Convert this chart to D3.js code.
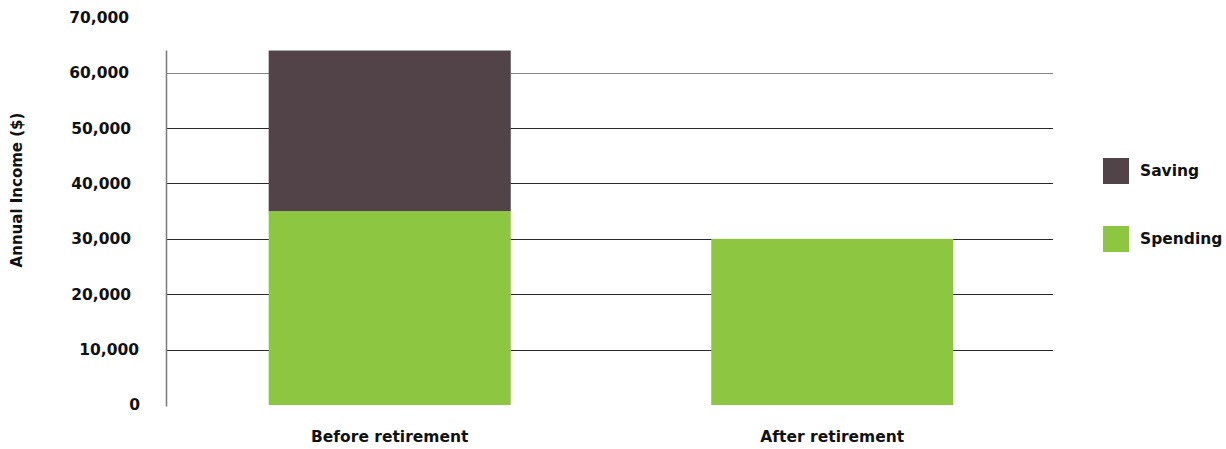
<!DOCTYPE html>
<html>
<head>
<meta charset="utf-8">
<script src="https://cdn.jsdelivr.net/npm/d3@7"></script>
<style>
  body { margin: 0; background: #fff; }
  svg text { font-family: "DejaVu Sans", sans-serif; font-weight: bold; fill: #111; }
</style>
</head>
<body>
<div id="chart"></div>
<script>
var categories = ["Before retirement", "After retirement"];
var spending = [35000, 30000];
var saving = [29000, 0];
var seriesNames = ["Saving", "Spending"];
var tickValues = [0, 10000, 20000, 30000, 40000, 50000, 60000, 70000];

var colors = { Saving: "#524349", Spending: "#8dc641" };

var W = 1226, H = 449;
var svg = d3.select("#chart").append("svg")
    .attr("width", W)
    .attr("height", H);

var x = d3.scaleBand()
    .domain(categories)
    .range([166, 1056])
    .paddingInner(0.453)
    .paddingOuter(0.232);

var y = d3.scaleLinear()
    .domain([0, 70000])
    .range([405, 17.3]);

var rows = categories.map(function(c, i) {
    return { cat: c, Spending: spending[i], Saving: saving[i] };
});
var stack = d3.stack().keys(["Spending", "Saving"])(rows);

// gridlines
svg.append("g")
    .selectAll("line")
    .data(tickValues.filter(function(v) { return v > 0 && v < 70000; }))
    .enter().append("line")
    .attr("x1", 166)
    .attr("x2", 1053)
    .attr("y1", function(d) { return Math.round(y(d)) + 0.5; })
    .attr("y2", function(d) { return Math.round(y(d)) + 0.5; })
    .attr("stroke", function(d) { return d === 60000 ? "#858585" : "#2a2a2a"; })
    .attr("stroke-width", 1);

// y tick labels
var yAxis = svg.append("g")
    .attr("transform", "translate(131,0)")
    .call(d3.axisLeft(y).tickValues(tickValues).tickSize(0).tickPadding(0)
        .tickFormat(d3.format(",")));
yAxis.select(".domain").remove();
yAxis.selectAll("text")
    .style("font-family", "'DejaVu Sans', sans-serif")
    .style("font-weight", "bold")
    .style("font-size", "15.5px")
    .attr("fill", "#111")
    .attr("dx", function(d) { return d === 0 ? 9 : d === 10000 ? 8 : d >= 60000 ? -2 : 0; });

// y axis line up to the tallest bar
var maxTotal = d3.max(rows, function(r) { return r.Spending + r.Saving; });
svg.append("line")
    .attr("x1", 166.5).attr("x2", 166.5)
    .attr("y1", y(maxTotal))
    .attr("y2", y(0) + 1.5)
    .attr("stroke", "#7a7a7a")
    .attr("stroke-width", 1.5);

// bars
stack.forEach(function(layer) {
    svg.append("g")
        .attr("fill", colors[layer.key])
        .selectAll("rect")
        .data(layer.filter(function(d) { return d[1] > d[0]; }))
        .enter().append("rect")
        .attr("x", function(d) { return x(d.data.cat); })
        .attr("width", x.bandwidth())
        .attr("y", function(d) { return y(d[1]); })
        .attr("height", function(d) { return y(d[0]) - y(d[1]); });
});

// category labels
var xAxis = svg.append("g")
    .attr("transform", "translate(0,405)")
    .call(d3.axisBottom(x).tickSize(0).tickPadding(26));
xAxis.select(".domain").remove();
xAxis.selectAll("text")
    .style("font-family", "'DejaVu Sans', sans-serif")
    .style("font-weight", "bold")
    .style("font-size", "15.5px")
    .attr("fill", "#111");

// y title
svg.append("text")
    .attr("transform", "translate(22,190) rotate(-90)")
    .attr("text-anchor", "middle")
    .style("font-size", "15px")
    .text("Annual Income ($)");

// legend
var legend = svg.append("g")
    .selectAll("g")
    .data(seriesNames)
    .enter().append("g")
    .attr("transform", function(d, i) { return "translate(1103," + (158 + i * 68) + ")"; });
legend.append("rect")
    .attr("width", 26)
    .attr("height", 26)
    .attr("fill", function(d) { return colors[d]; });
legend.append("text")
    .attr("x", 37)
    .attr("y", 13)
    .attr("dy", "0.35em")
    .style("font-size", "15.5px")
    .text(function(d) { return d; });
</script>
</body>
</html>
